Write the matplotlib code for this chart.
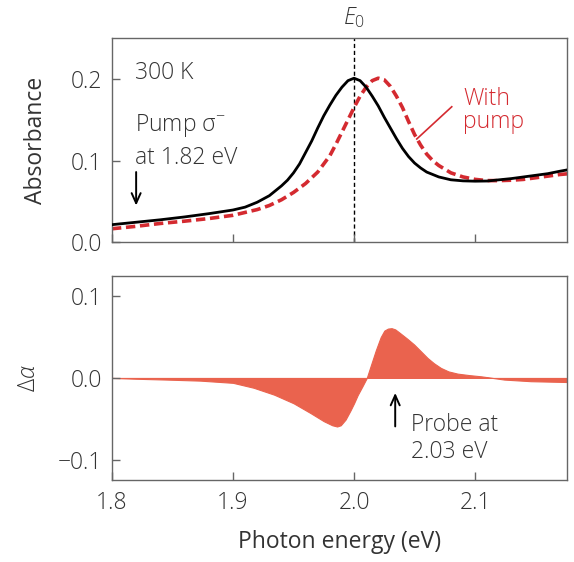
import matplotlib
matplotlib.use('Agg')
import matplotlib.pyplot as plt

plt.rcParams['font.family'] = ['Open Sans', 'DejaVu Sans']
plt.rcParams['font.weight'] = 'light'
plt.rcParams['mathtext.fontset'] = 'custom'
plt.rcParams['mathtext.rm'] = 'Open Sans:light'
plt.rcParams['mathtext.it'] = 'Open Sans:italic:light'

# absorbance spectra (photon energy in eV)
energy_abs = [1.800, 1.820, 1.840, 1.860, 1.880, 1.900, 1.910, 1.920, 1.930, 1.940,
              1.945, 1.950, 1.955, 1.960, 1.965, 1.970, 1.975, 1.980, 1.985, 1.990,
              1.995, 2.000, 2.005, 2.010, 2.015, 2.020, 2.025, 2.030, 2.035, 2.040,
              2.045, 2.050, 2.055, 2.060, 2.070, 2.080, 2.090, 2.100, 2.110, 2.120,
              2.130, 2.140, 2.150, 2.160, 2.170, 2.176]
abs_no_pump = [0.0215, 0.0245, 0.0275, 0.031, 0.035, 0.0395, 0.043, 0.049, 0.057, 0.069,
               0.076, 0.085, 0.096, 0.110, 0.124, 0.140, 0.155, 0.168, 0.180, 0.190,
               0.198, 0.201, 0.198, 0.190, 0.179, 0.167, 0.153, 0.140, 0.127, 0.115,
               0.105, 0.097, 0.091, 0.086, 0.080, 0.0765, 0.0752, 0.0748, 0.075, 0.0765,
               0.078, 0.080, 0.082, 0.084, 0.087, 0.0886]

energy_pump = [1.800, 1.820, 1.840, 1.860, 1.880, 1.900, 1.920, 1.930, 1.940, 1.950,
               1.960, 1.970, 1.980, 1.985, 1.990, 1.995, 2.000, 2.005, 2.010, 2.015,
               2.020, 2.025, 2.030, 2.035, 2.040, 2.045, 2.050, 2.055, 2.060, 2.065,
               2.070, 2.080, 2.090, 2.100, 2.110, 2.120, 2.130, 2.140, 2.150, 2.160,
               2.170, 2.176]
abs_with_pump = [0.0165, 0.0195, 0.023, 0.0258, 0.029, 0.033, 0.040, 0.045, 0.052, 0.061,
                 0.072, 0.086, 0.106, 0.120, 0.135, 0.150, 0.165, 0.179, 0.190, 0.198,
                 0.201, 0.199, 0.191, 0.179, 0.165, 0.148, 0.132, 0.119, 0.108, 0.100,
                 0.094, 0.085, 0.080, 0.077, 0.0755, 0.0755, 0.076, 0.077, 0.079, 0.081,
                 0.083, 0.0838]

# differential absorption
energy_diff = [1.800, 1.820, 1.845, 1.873, 1.900, 1.917, 1.934, 1.950, 1.964, 1.975,
               1.982, 1.986, 1.989, 1.993, 1.997, 2.000, 2.003, 2.007, 2.0105, 2.014,
               2.018, 2.022, 2.025, 2.028, 2.031, 2.034, 2.038, 2.044, 2.0496, 2.055,
               2.0607, 2.066, 2.0717, 2.078, 2.0855, 2.095, 2.105, 2.124, 2.146, 2.176]
delta_alpha = [0.000, -0.001, -0.002, -0.0033, -0.006, -0.012, -0.0205, -0.031, -0.043, -0.053,
               -0.058, -0.0595, -0.058, -0.051, -0.040, -0.031, -0.021, -0.010, 0.000, 0.016,
               0.034, 0.050, 0.058, 0.0605, 0.061, 0.0595, 0.055, 0.048, 0.041, 0.033,
               0.0245, 0.018, 0.0123, 0.008, 0.0053, 0.0035, 0.002, -0.002, -0.004, -0.005]

E0 = 2.0
pump_energy = 1.82
probe_energy = 2.034

red = '#d42a30'
fill_red = '#ea634e'
spine_c = '#666666'
text_c = '#333333'
fs = 16.5

fig = plt.figure(figsize=(5.74, 5.62), dpi=100)
ax1 = fig.add_axes([0.195, 0.569, 0.793, 0.363])
ax2 = fig.add_axes([0.195, 0.146, 0.793, 0.363])

for ax in (ax1, ax2):
    ax.set_xlim(1.8, 2.176)
    ax.set_xticks([1.8, 1.9, 2.0, 2.1])
    ax.tick_params(direction='in', length=6, width=1, color=spine_c,
                   labelsize=fs, labelcolor=text_c)
    ax.tick_params(axis='y', pad=7)
    ax.tick_params(axis='x', pad=8)
    for s in ax.spines.values():
        s.set_color(spine_c)
        s.set_linewidth(1)

arrow_props = dict(arrowstyle='->, head_length=0.4, head_width=0.18',
                   mutation_scale=18, color='black', lw=1.4, shrinkA=0, shrinkB=0)

# top panel
ax1.set_ylim(0, 0.25)
ax1.set_yticks([0.0, 0.1, 0.2])
ax1.set_yticklabels(['0.0', '0.1', '0.2'])
ax1.tick_params(axis='x', labelbottom=False)
ax1.axvline(E0, color='black', lw=1, ls=(0, (3, 2)), zorder=1)
ax1.plot(energy_abs, abs_no_pump, color='black', lw=2, zorder=3)
ax1.plot(energy_pump, abs_with_pump, color=red, lw=2.6, ls=(0, (2.6, 1.3)), zorder=2)
ax1.set_ylabel('Absorbance', fontsize=fs, color=text_c)
ax1.yaxis.set_label_coords(-0.14, 0.5)
ax1.text(E0, 1.103, '$E_0$', transform=ax1.get_xaxis_transform(),
         ha='center', va='center', fontsize=fs, color=text_c)

ax1.text(1.819, 0.1996, '300 K', fontsize=fs, color=text_c, va='baseline')
ax1.text(1.819, 0.136, 'Pump σ$^{-}$', fontsize=fs, color=text_c, va='baseline')
ax1.text(1.819, 0.096, 'at 1.82 eV', fontsize=fs, color=text_c, va='baseline')
ax1.annotate('', xy=(pump_energy, 0.045), xytext=(pump_energy, 0.086),
             arrowprops=arrow_props)

ax1.text(2.090, 0.168, 'With', fontsize=fs, color=red, va='baseline')
ax1.text(2.090, 0.140, 'pump', fontsize=fs, color=red, va='baseline')
ax1.plot([2.0807, 2.0518], [0.166, 0.1265], color=red, lw=1.2)

# bottom panel
ax2.set_ylim(-0.125, 0.125)
ax2.set_yticks([-0.1, 0.0, 0.1])
ax2.set_yticklabels(['\u22120.1', '0.0', '0.1'])
ax2.fill_between(energy_diff, 0, delta_alpha, color=fill_red, lw=0.8, edgecolor=fill_red)
ax2.set_ylabel(r'$\Delta\alpha$', fontsize=fs, color=text_c)
ax2.yaxis.set_label_coords(-0.155, 0.5)
ax2.set_xlabel('Photon energy (eV)', fontsize=fs, color=text_c)
ax2.xaxis.set_label_coords(0.5, -0.245)

ax2.annotate('', xy=(probe_energy, -0.0184), xytext=(probe_energy, -0.0594),
             arrowprops=arrow_props)
ax2.text(2.047, -0.0655, 'Probe at', fontsize=fs, color=text_c, va='baseline')
ax2.text(2.047, -0.098, '2.03 eV', fontsize=fs, color=text_c, va='baseline')

fig.savefig('out.png', dpi=100)
